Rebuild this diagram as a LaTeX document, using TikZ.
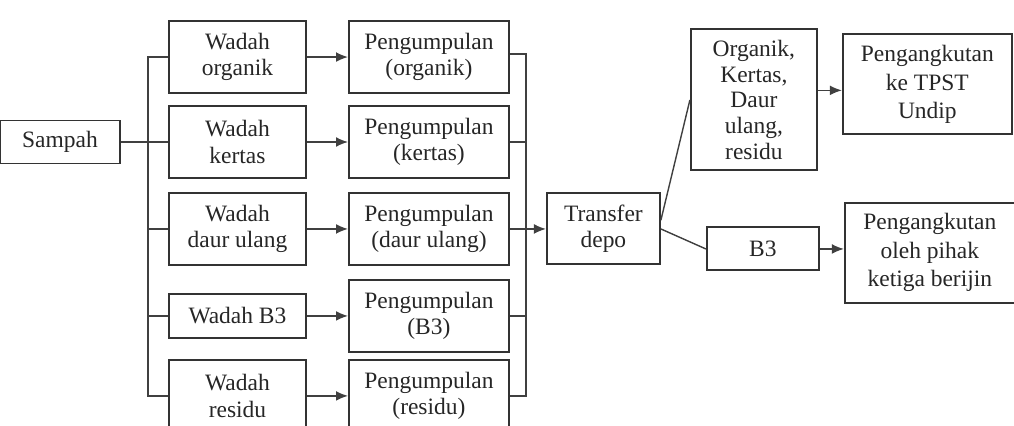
\documentclass[tikz,border=0pt]{standalone}
\usepackage{fontspec}
\setmainfont{Liberation Serif}
\usepackage{tikz}
\usetikzlibrary{arrows.meta,positioning,calc}

\begin{document}
\begin{tikzpicture}[box/.style={draw=black!80, line width=1.4pt, align=center, inner sep=2pt, text=black!85, font=\fontsize{16.7}{18.8}\selectfont}, wadah/.style={box, minimum width=3.425cm, minimum height=1.8cm}, kumpul/.style={box, minimum width=4cm, minimum height=1.8cm}, line/.style={draw=black!75, line width=1pt}, arr/.style={line, -{Latex[length=8.5pt,width=7pt]}}]
\useasboundingbox (0,0) rectangle (25.35,-10.625);
\node[box, minimum width=3cm, minimum height=1.075cm] (sampah) at (1.5,-3.55) {Sampah};
\node[wadah, right=1.175cm of sampah] (wkertas) {Wadah\\kertas};
\node[wadah, above=0.275cm of wkertas] (worganik) {Wadah\\organik};
\node[wadah, below=0.325cm of wkertas] (wdaur) {Wadah\\daur ulang};
\node[wadah, minimum height=1.1cm, below=0.675cm of wdaur] (wb3) {Wadah B3};
\node[wadah, below=0.5cm of wb3] (wresidu) {Wadah\\residu};
\node[kumpul, right=1.025cm of worganik] (porganik) {Pengumpulan\\(organik)};
\node[kumpul, right=1.025cm of wkertas] (pkertas) {Pengumpulan\\(kertas)};
\node[kumpul, right=1.025cm of wdaur] (pdaur) {Pengumpulan\\(daur ulang)};
\node[kumpul, right=1.025cm of wb3] (pb3) {Pengumpulan\\(B3)};
\node[kumpul, right=1.025cm of wresidu] (presidu) {Pengumpulan\\(residu)};
\node[box, minimum width=2.825cm, minimum height=1.775cm, right=0.9cm of pdaur] (transfer) {Transfer\\depo};
\node[box, minimum width=3.15cm, minimum height=3.525cm, right=0.725cm of transfer, yshift=3.225cm, font=\fontsize{16.7}{18.3}\selectfont] (okrd) {Organik,\\Kertas,\\Daur\\ulang,\\residu};
\node[box, minimum width=2.8cm, minimum height=1.075cm, right=1.125cm of transfer, yshift=-0.5cm] (b3) {B3};
\node[box, minimum width=4.225cm, minimum height=2.5cm, right=0.6cm of okrd, yshift=0.39cm, font=\fontsize{16.7}{20.2}\selectfont] (tpst) {Pengangkutan\\ke TPST\\Undip};
\node[box, minimum width=4.25cm, minimum height=2.5cm, right=0.6cm of b3, yshift=-0.09cm, font=\fontsize{16.7}{20.2}\selectfont] (pihak) {Pengangkutan\\oleh pihak\\ketiga berijin};
% cabang dari sampah ke wadah
\coordinate[left=0.5cm of worganik.west] (cabang);
\draw[line] (sampah.east) -- (wkertas.west);
\draw[line] (worganik.west) -- (cabang) -- (cabang |- wresidu.west) -- (wresidu.west);
\draw[line] (wdaur.west -| cabang) -- (wdaur.west);
\draw[line] (wb3.west -| cabang) -- (wb3.west);
% wadah ke pengumpulan
\draw[arr] (worganik)--(porganik);
\draw[arr] (wkertas)--(pkertas);
\draw[arr] (wdaur)--(pdaur);
\draw[arr] (wb3)--(pb3);
\draw[arr] (wresidu)--(presidu);
% pengumpulan ke transfer depo
\coordinate[right=0.4cm of porganik.east, yshift=0.08cm] (kumpulan);
\draw[line] ([yshift=0.08cm]porganik.east) -- (kumpulan) -- (kumpulan |- presidu.east) -- (presidu.east);
\draw[line] (pkertas.east) -- (pkertas.east -| kumpulan);
\draw[line] (pb3.east) -- (pb3.east -| kumpulan);
\draw[line] (pdaur.east) -- (pdaur.east -| kumpulan);
\draw[arr] (transfer.west -| kumpulan) -- (transfer.west);
% transfer depo ke tujuan
\draw[line] ([yshift=0.22cm]transfer.east) -- (okrd.west);
\draw[line] (transfer.east) -- (b3.west);
\draw[arr] ($(okrd.east)+(0,0.24)$) -- ($(okrd.east -| tpst.west)+(0,0.24)$);
\draw[arr] (b3.east) -- (b3.east -| pihak.west);
\end{tikzpicture}
\end{document}
